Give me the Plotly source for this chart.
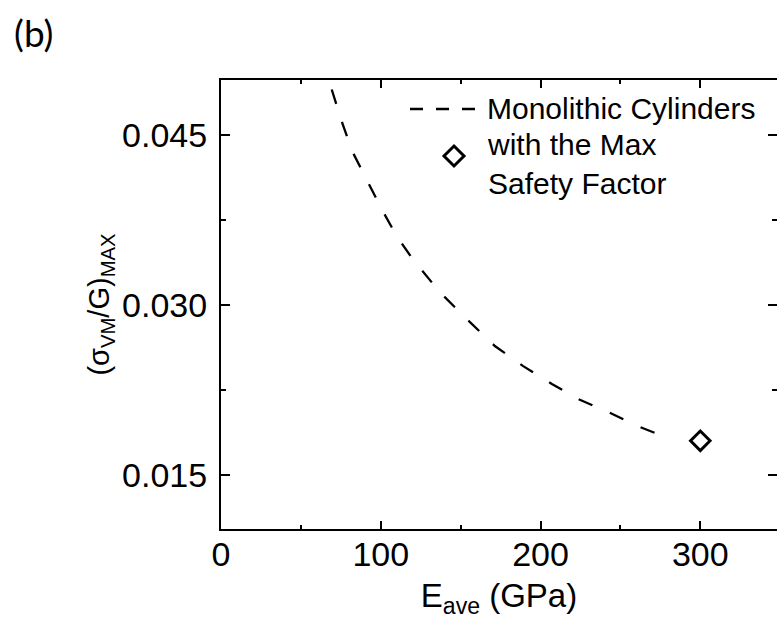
import plotly.graph_objects as go

# ---- data ----
curve_E = [69.3, 76.2, 82.5, 91.3, 100.6, 110.0, 120.0, 136.9, 153.8, 171.4,
           188.9, 207.1, 224.6, 242.1, 260.3, 277.8, 282.2]
curve_S = [0.04906, 0.04597, 0.04350, 0.04112, 0.03847, 0.03609, 0.03406,
           0.03115, 0.02876, 0.02638, 0.02462, 0.02303, 0.02162, 0.02056,
           0.01932, 0.01835, 0.01809]
point_E = [300]
point_S = [0.0180]
x_ticks = [0, 100, 200, 300]
y_ticks = [0.015, 0.030, 0.045]
y_tick_text = ["0.015", "0.030", "0.045"]
legend_line_label = "Monolithic Cylinders"
legend_marker_label = "with the Max<br>Safety Factor"

W, H = 777, 628
L, R, T, B = 221, 0, 80, 99
PW, PH = W - L - R, H - T - B
FONT = "Liberation Sans, Arial, sans-serif"


def px(x):
    return (x - L) / PW


def py(y):
    return 1 - (y - T) / PH


fig = go.Figure()
fig.add_trace(go.Scatter(x=curve_E, y=curve_S, mode="lines",
                         line=dict(color="black", width=2.3, dash="15px,19px"),
                         showlegend=False, hoverinfo="skip"))
fig.add_trace(go.Scatter(x=point_E, y=point_S, mode="markers",
                         marker=dict(symbol="diamond-open", size=15, color="black",
                                     line=dict(width=3, color="black")),
                         showlegend=False))
# carrier for the right-hand tick axis
fig.add_trace(go.Scatter(x=point_E, y=point_S, yaxis="y2", mode="markers",
                         marker=dict(opacity=0), showlegend=False, hoverinfo="skip"))

yr = [0.0102, 0.0499]
common_y = dict(range=yr, tickvals=y_ticks, ticks="inside", ticklen=9, tickwidth=2,
                tickcolor="black", showgrid=False, zeroline=False,
                minor=dict(ticks="inside", ticklen=5, tickwidth=2, tickcolor="black",
                           tick0=0.0075, dtick=0.015, showgrid=False))

fig.update_layout(
    width=W, height=H, margin=dict(l=L, r=R, t=T, b=B, pad=0),
    paper_bgcolor="white", plot_bgcolor="white",
    font=dict(family=FONT, color="black"),
    showlegend=False,
    xaxis=dict(range=[0, 348], tickvals=x_ticks, ticks="inside", ticklen=8, tickwidth=2,
               tickcolor="black", showline=True, linewidth=2, linecolor="black",
               mirror="ticks", showgrid=False, zeroline=False,
               tickfont=dict(size=34, family=FONT), ticklabelstandoff=-6,
               minor=dict(ticks="inside", ticklen=4, tickwidth=2, tickcolor="black",
                          tick0=50, dtick=100, showgrid=False),
               title=dict(text="E<sub>ave</sub> (GPa)", font=dict(size=33, family=FONT),
                          standoff=12)),
    yaxis=dict(**common_y, ticktext=y_tick_text, showline=True, linewidth=2,
               linecolor="black", tickfont=dict(size=34, family=FONT),
               ticklabelstandoff=5,
               title=dict(text="(σ<sub>VM</sub>/G)<sub>MAX</sub>",
                          font=dict(size=29, family=FONT), standoff=4)),
    yaxis2=dict(**common_y, overlaying="y", side="right", showline=False,
                showticklabels=False),
)

# panel label
fig.add_annotation(text="(b)", xref="paper", yref="paper", x=px(12), y=py(8),
                   xanchor="left", yanchor="top", showarrow=False,
                   font=dict(size=37, family="Lato, sans-serif"))

# legend key (drawn manually to match the reference key)
fig.add_shape(type="line", xref="paper", yref="paper", x0=px(410), x1=px(477),
              y0=py(109), y1=py(109), line=dict(color="black", width=2.3, dash="13px,13px"))
cx, cy, r = px(454), py(156), 10
fig.add_shape(type="path", xref="paper", yref="paper",
              path=f"M {cx} {cy + r / PH} L {cx + r / PW} {cy} L {cx} {cy - r / PH} "
                   f"L {cx - r / PW} {cy} Z",
              line=dict(color="black", width=3))
fig.add_annotation(text=legend_line_label, xref="paper", yref="paper", x=px(485),
                   y=py(108), xanchor="left", yanchor="middle", showarrow=False,
                   font=dict(size=30, family=FONT))
fig.add_annotation(text=legend_marker_label, xref="paper", yref="paper", x=px(485),
                   y=py(164), xanchor="left", yanchor="middle", showarrow=False,
                   align="left", font=dict(size=30, family=FONT))

fig.write_html("out.html")
